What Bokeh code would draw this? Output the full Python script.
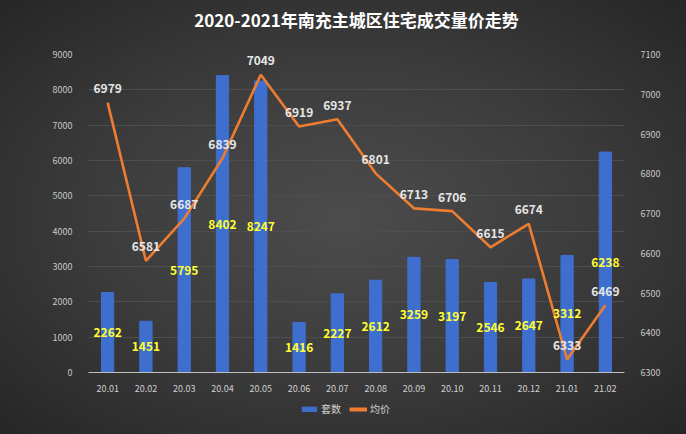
from bokeh.plotting import figure
from bokeh.layouts import column
from bokeh.models import (FactorRange, Range1d, LinearAxis, ColumnDataSource,
                          Legend, LegendItem, LabelSet, FixedTicker)
from bokeh.embed import file_html
from bokeh.resources import INLINE
from bokeh.core.properties import value

months = ["20.01", "20.02", "20.03", "20.04", "20.05", "20.06", "20.07",
          "20.08", "20.09", "20.10", "20.11", "20.12", "21.01", "21.02"]
counts = [2262, 1451, 5795, 8402, 8247, 1416, 2227, 2612, 3259, 3197, 2546, 2647, 3312, 6238]
prices = [6979, 6581, 6687, 6839, 7049, 6919, 6937, 6801, 6713, 6706, 6615, 6674, 6333, 6469]
title_text = "2020-2021年南充主城区住宅成交量价走势"

FONT = "Noto Sans CJK SC"
BAR_COLOR = "#3E6FCF"
LINE_COLOR = "#ED7D31"
NAN = float("nan")


def strip(h):
    f = figure(width=686, height=h, x_range=Range1d(0, 1), y_range=Range1d(0, 1),
               output_backend="svg", toolbar_location=None,
               x_axis_type=None, y_axis_type=None,
               min_border_left=0, min_border_right=0, min_border_top=0, min_border_bottom=0)
    f.background_fill_color = None
    f.border_fill_color = None
    f.outline_line_color = None
    f.grid.grid_line_color = None
    return f


# title strip
p0 = strip(38)
p0.text(x=[0.5], y=[0.5], text=[title_text], text_align="center", text_baseline="middle",
        text_color="#ffffff", text_font=value(FONT), text_font_size="17px",
        text_font_style="bold")

src = ColumnDataSource(dict(
    x=months, counts=counts, prices=prices,
    half=[c / 2 for c in counts],
    ctext=[str(c) for c in counts],
    ptext=[str(v) for v in prices],
))

p = figure(width=686, height=362, x_range=FactorRange(*months),
           y_range=Range1d(0, 9000), output_backend="svg", toolbar_location=None,
           min_border_left=88, min_border_right=62, min_border_top=16, min_border_bottom=28)
p.background_fill_color = None
p.border_fill_color = None
p.outline_line_color = None

p.extra_y_ranges = {"price": Range1d(6300, 7100)}

bars = p.vbar(x="x", top="counts", width=0.32, source=src, color=BAR_COLOR)
line = p.line(x="x", y="prices", source=src, y_range_name="price",
              line_color=LINE_COLOR, line_width=2.6)

p.add_layout(LabelSet(x="x", y="half", text="ctext", source=src,
                      text_align="center", text_baseline="middle",
                      text_color="#FFFF33", text_font=value(FONT),
                      text_font_size="12px", text_font_style="bold"))
p.add_layout(LabelSet(x="x", y="prices", text="ptext", source=src, y_range_name="price",
                      text_align="center", text_baseline="middle", y_offset=14,
                      text_color="#E6E6E6", text_font=value(FONT),
                      text_font_size="12px", text_font_style="bold"))

ax = p.yaxis[0]
ax.ticker = FixedTicker(ticks=list(range(0, 9001, 1000)))
ax2 = LinearAxis(y_range_name="price", ticker=FixedTicker(ticks=list(range(6300, 7101, 100))))
p.add_layout(ax2, "right")

for a in (ax, ax2):
    a.axis_line_color = None
    a.major_tick_line_color = None
    a.minor_tick_line_color = None
    a.major_label_text_color = "#C8C8C8"
    a.major_label_text_font = FONT
    a.major_label_text_font_size = "9px"
    a.major_label_standoff = 10

xa = p.xaxis[0]
xa.axis_line_color = "#BFBFBF"
xa.axis_line_width = 1
xa.major_tick_line_color = None
xa.minor_tick_line_color = None
xa.major_label_text_color = "#D0D0D0"
xa.major_label_text_font = FONT
xa.major_label_text_font_size = "9px"
xa.major_label_standoff = 6

p.xgrid.grid_line_color = None
p.ygrid.grid_line_color = "#4E4E4E"
p.ygrid.grid_line_width = 1
p.ygrid.ticker = FixedTicker(ticks=list(range(1000, 9001, 1000)))

# legend strip below the chart (proxy renderers with no visible marks)
p2 = strip(34)
lb = p2.vbar(x=[NAN], top=[NAN], width=0.3, color=BAR_COLOR)
ll = p2.line(x=[NAN, NAN], y=[NAN, NAN], line_color=LINE_COLOR, line_width=4)

legend = Legend(items=[LegendItem(label="套数", renderers=[lb]),
                       LegendItem(label="均价", renderers=[ll])],
                orientation="horizontal", location=(212, 18),
                background_fill_alpha=0, border_line_color=None,
                label_text_color="#D0D0D0", label_text_font=FONT,
                label_text_font_size="10px", glyph_width=18, glyph_height=6,
                spacing=8, padding=2, margin=0, label_standoff=3)
p2.add_layout(legend)

layout = column(p0, p, p2, spacing=0,
                styles={"background": "radial-gradient(ellipse at 50% 50%, #4c4c4c 0%, #3c3c3c 50%, #262626 100%)"})

open("out.html", "w").write(file_html(layout, INLINE))
